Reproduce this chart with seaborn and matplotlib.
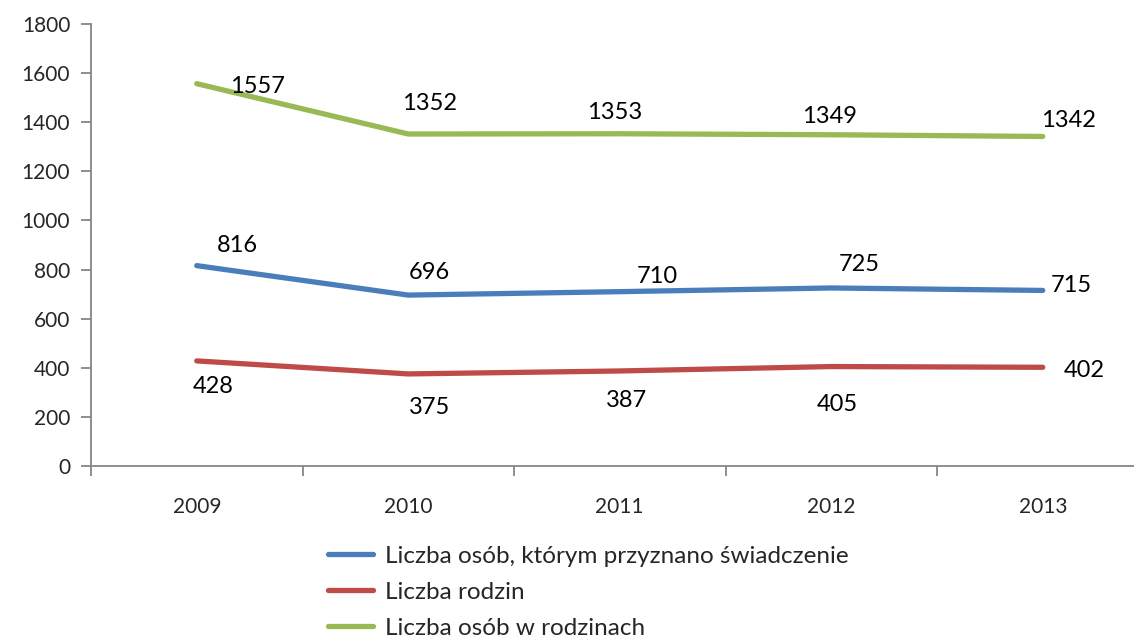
import pandas as pd
import seaborn as sns
import matplotlib.pyplot as plt
from matplotlib.lines import Line2D

# --- DATA ---
years = [2009, 2010, 2011, 2012, 2013]
osoby_swiadczenie = [816, 696, 710, 725, 715]
rodziny = [428, 375, 387, 405, 402]
osoby_w_rodzinach = [1557, 1352, 1353, 1349, 1342]

series_names = [
    "Liczba osób, którym przyznano świadczenie",
    "Liczba rodzin",
    "Liczba osób w rodzinach",
]
colors = ["#4A7EBB", "#BE4B48", "#98B954"]

# label offsets in pixels (dx, dy) per series, like the excel layout
label_offsets = [
    [(41, 20), (21, 23), (38, 15), (28, 23), (29, 5)],
    [(16, -26), (21, -34), (7, -30), (6, -38), (42, -3)],
    [(61, -3), (21, 31), (-5, 21), (-2, 18), (26, 16)],
]

df = pd.DataFrame({
    "year": years * 3,
    "value": osoby_swiadczenie + rodziny + osoby_w_rodzinach,
    "series": [s for s in series_names for _ in years],
})

sns.set_style("white")
plt.rcParams["font.family"] = ["Lato", "DejaVu Sans"]

fig = plt.figure(figsize=(11.34, 6.41), dpi=100)
ax = fig.add_axes([91 / 1134, 1 - 466 / 641, 1 - 91 / 1134, (466 - 24) / 641])

sns.lineplot(data=df, x="year", y="value", hue="series", hue_order=series_names,
             palette=colors, linewidth=3.8, ax=ax, legend=False)
for line in ax.lines:
    line.set_solid_capstyle("round")
    line.set_solid_joinstyle("round")

# data labels
vals = [osoby_swiadczenie, rodziny, osoby_w_rodzinach]
for s_vals, offs in zip(vals, label_offsets):
    for x, v, (dx, dy) in zip(years, s_vals, offs):
        ax.annotate(str(v), (x, v), xytext=(dx, dy), textcoords="offset pixels",
                    ha="center", va="center", fontsize=17, color="black")

ax.set_yticks(range(0, 1801, 200))
ax.set_xticks(years)
ax.set_xticklabels([str(y) for y in years])
ax.set_xticks([y + 0.5 for y in [years[0] - 1] + years], minor=True)
# limits after ticks, otherwise set_xticks widens the view
ax.set_xlim(years[0] - 0.5, years[0] - 0.5 + (1134 - 91) / 211.5)
ax.set_ylim(0, 1800)
ax.set_xlabel("")
ax.set_ylabel("")

for side in ["top", "right"]:
    ax.spines[side].set_visible(False)
for side in ["left", "bottom"]:
    ax.spines[side].set_color("#868686")
    ax.spines[side].set_linewidth(1.3)

ax.tick_params(axis="y", which="major", left=True, length=7, width=1.3,
               color="#868686", labelsize=15, pad=8)
ax.tick_params(axis="x", which="major", bottom=False, length=0, labelsize=15, pad=22)
ax.tick_params(axis="x", which="minor", bottom=True, length=7, width=1.3, color="#868686")

handles = [Line2D([0], [0], color=c, linewidth=3.8, solid_capstyle="round") for c in colors]
fig.legend(handles, series_names, loc="upper left", bbox_to_anchor=(318 / 1134, 1 - 536 / 641),
           frameon=False, fontsize=17.5, handlelength=1.85, handletextpad=0.5,
           labelspacing=0.62, borderaxespad=0)

fig.savefig("out.png", dpi=100)
